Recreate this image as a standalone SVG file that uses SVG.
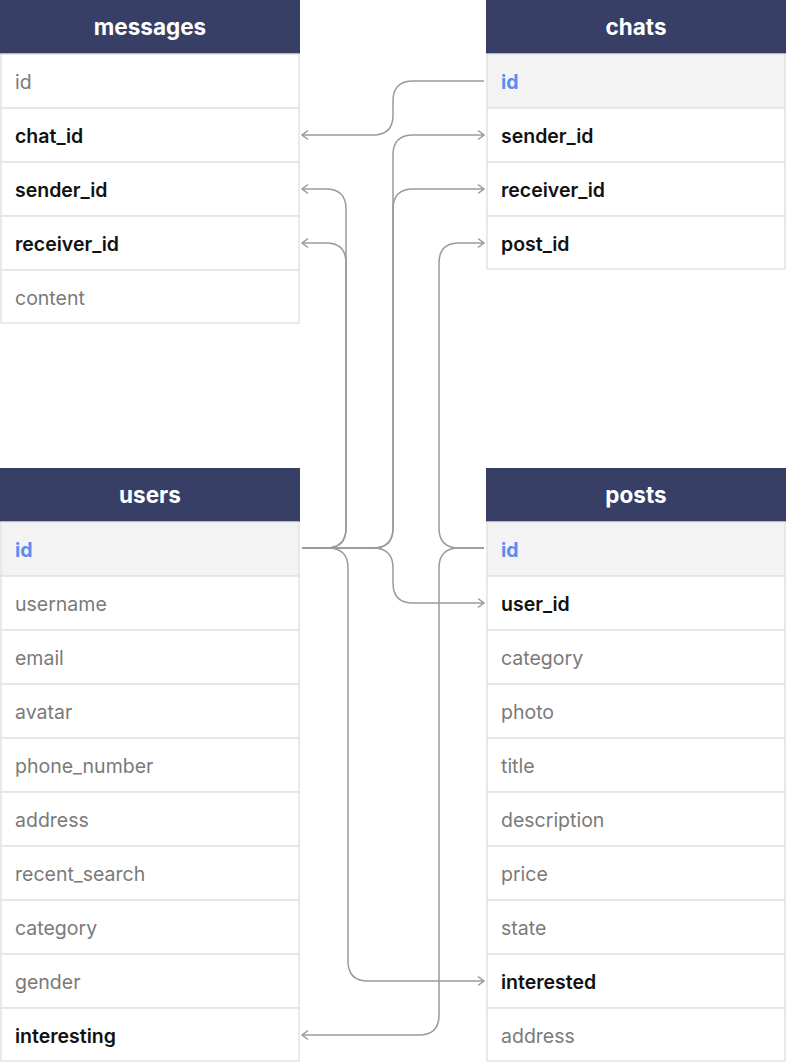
<svg xmlns="http://www.w3.org/2000/svg" width="786" height="1062" viewBox="0 0 786 1062">
<defs>
<style>
.hdr{fill:#373f66}
.ht{fill:#ffffff;font-family:Inter,"Liberation Sans",sans-serif;font-size:22.5px;font-weight:700;text-anchor:middle}
.row{fill:#ffffff;stroke:#e2e2e2;stroke-width:1.5}
.pkrow{fill:#f3f3f3;stroke:#e2e2e2;stroke-width:1.5}
.t{font-family:Inter,"Liberation Sans",sans-serif;font-size:19.5px;fill:#7a7a7a}
.fk{font-family:Inter,"Liberation Sans",sans-serif;font-size:19.5px;fill:#111111;font-weight:600}
.pk{font-family:Inter,"Liberation Sans",sans-serif;font-size:19.5px;fill:#5b8def;font-weight:700}
.c{fill:none;stroke:#9a9a9a;stroke-width:1.5}
</style>
<marker id="ar" markerUnits="userSpaceOnUse" markerWidth="12" markerHeight="12" refX="8" refY="6" orient="auto">
<path d="M2,1.5 L8,6 L2,10.5" fill="none" stroke="#9a9a9a" stroke-width="1.5"/>
</marker>
</defs>
<rect width="786" height="1062" fill="#ffffff"/>

<g id="messages">
<rect class="hdr" x="0" y="0" width="300" height="54"/>
<text class="ht" x="150" y="35">messages</text>
<rect class="row" x="1" y="54" width="298" height="54"/>
<text class="t" x="15" y="89">id</text>
<rect class="row" x="1" y="108" width="298" height="54"/>
<text class="fk" x="15" y="143">chat_id</text>
<rect class="row" x="1" y="162" width="298" height="54"/>
<text class="fk" x="15" y="197">sender_id</text>
<rect class="row" x="1" y="216" width="298" height="54"/>
<text class="fk" x="15" y="251">receiver_id</text>
<rect class="row" x="1" y="270" width="298" height="53"/>
<text class="t" x="15" y="305">content</text>
</g>

<g id="chats">
<rect class="hdr" x="486" y="0" width="300" height="54"/>
<text class="ht" x="636" y="35">chats</text>
<rect class="pkrow" x="487" y="54" width="298" height="54"/>
<text class="pk" x="501" y="89">id</text>
<rect class="row" x="487" y="108" width="298" height="54"/>
<text class="fk" x="501" y="143">sender_id</text>
<rect class="row" x="487" y="162" width="298" height="54"/>
<text class="fk" x="501" y="197">receiver_id</text>
<rect class="row" x="487" y="216" width="298" height="53"/>
<text class="fk" x="501" y="251">post_id</text>
</g>

<g id="users">
<rect class="hdr" x="0" y="468" width="300" height="54"/>
<text class="ht" x="150" y="503">users</text>
<rect class="pkrow" x="1" y="522" width="298" height="54"/>
<text class="pk" x="15" y="557">id</text>
<rect class="row" x="1" y="576" width="298" height="54"/>
<text class="t" x="15" y="611">username</text>
<rect class="row" x="1" y="630" width="298" height="54"/>
<text class="t" x="15" y="665">email</text>
<rect class="row" x="1" y="684" width="298" height="54"/>
<text class="t" x="15" y="719">avatar</text>
<rect class="row" x="1" y="738" width="298" height="54"/>
<text class="t" x="15" y="773">phone_number</text>
<rect class="row" x="1" y="792" width="298" height="54"/>
<text class="t" x="15" y="827">address</text>
<rect class="row" x="1" y="846" width="298" height="54"/>
<text class="t" x="15" y="881">recent_search</text>
<rect class="row" x="1" y="900" width="298" height="54"/>
<text class="t" x="15" y="935">category</text>
<rect class="row" x="1" y="954" width="298" height="54"/>
<text class="t" x="15" y="989">gender</text>
<rect class="row" x="1" y="1008" width="298" height="53"/>
<text class="fk" x="15" y="1043">interesting</text>
</g>

<g id="posts">
<rect class="hdr" x="486" y="468" width="300" height="54"/>
<text class="ht" x="636" y="503">posts</text>
<rect class="pkrow" x="487" y="522" width="298" height="54"/>
<text class="pk" x="501" y="557">id</text>
<rect class="row" x="487" y="576" width="298" height="54"/>
<text class="fk" x="501" y="611">user_id</text>
<rect class="row" x="487" y="630" width="298" height="54"/>
<text class="t" x="501" y="665">category</text>
<rect class="row" x="487" y="684" width="298" height="54"/>
<text class="t" x="501" y="719">photo</text>
<rect class="row" x="487" y="738" width="298" height="54"/>
<text class="t" x="501" y="773">title</text>
<rect class="row" x="487" y="792" width="298" height="54"/>
<text class="t" x="501" y="827">description</text>
<rect class="row" x="487" y="846" width="298" height="54"/>
<text class="t" x="501" y="881">price</text>
<rect class="row" x="487" y="900" width="298" height="54"/>
<text class="t" x="501" y="935">state</text>
<rect class="row" x="487" y="954" width="298" height="54"/>
<text class="fk" x="501" y="989">interested</text>
<rect class="row" x="487" y="1008" width="298" height="53"/>
<text class="t" x="501" y="1043">address</text>
</g>

<g id="connectors">
<path class="c" marker-end="url(#ar)" d="M484,81 H413 Q393,81 393,101 V115 Q393,135 373,135 H302"/>
<path class="c" marker-end="url(#ar)" d="M302,548 H373 Q393,548 393,528 V155 Q393,135 413,135 H484"/>
<path class="c" marker-end="url(#ar)" d="M302,548 H373 Q393,548 393,528 V209 Q393,189 413,189 H484"/>
<path class="c" marker-end="url(#ar)" d="M302,548 H326 Q346,548 346,528 V209 Q346,189 326,189 H302"/>
<path class="c" marker-end="url(#ar)" d="M302,548 H326 Q346,548 346,528 V263 Q346,243 326,243 H302"/>
<path class="c" marker-end="url(#ar)" d="M484,548 H459 Q439,548 439,528 V263 Q439,243 459,243 H484"/>
<path class="c" marker-end="url(#ar)" d="M302,548 H373 Q393,548 393,568 V583 Q393,603 413,603 H484"/>
<path class="c" marker-end="url(#ar)" d="M302,548 H328 Q348,548 348,568 V961 Q348,981 368,981 H484"/>
<path class="c" marker-end="url(#ar)" d="M484,548 H459 Q439,548 439,568 V1015 Q439,1035 419,1035 H302"/>
</g>
</svg>
